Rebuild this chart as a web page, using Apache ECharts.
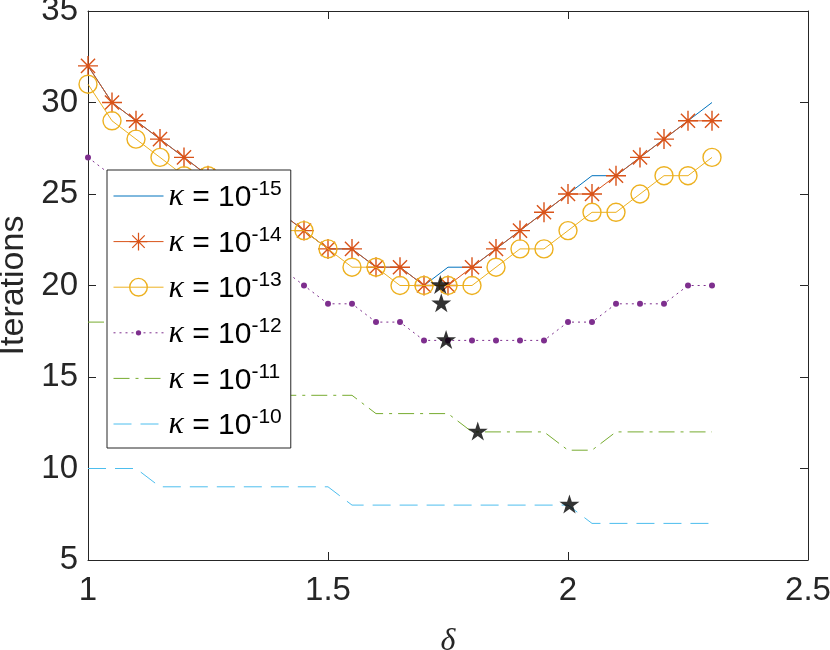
<!DOCTYPE html>
<html>
<head>
<meta charset="UTF-8">
<title>Iterations vs delta</title>
<style type="text/css">
	body { margin: 0; background: #fff; }
	#chart { width: 830px; height: 650px; }
</style>
</head>
<body>
<div id="chart"></div>
<script src="https://cdn.jsdelivr.net/npm/echarts@6/dist/echarts.min.js"></script>
<script type="text/javascript">
	var myChart = echarts.init(document.getElementById('chart'));

	// delta values (x)
	var delta = [1.00, 1.05, 1.10, 1.15, 1.20, 1.25, 1.30, 1.35, 1.40, 1.45, 1.50, 1.55, 1.60, 1.65,
		1.70, 1.75, 1.80, 1.85, 1.90, 1.95, 2.00, 2.05, 2.10, 2.15, 2.20, 2.25, 2.30];

	// iterations for each kappa
	var k15 = [32, 30, 29, 28, 27, 26, 25, 24, 24, 23, 22, 22, 21, 21, 20, 21, 21, 22, 23, 24, 25, 26, 26, 27, 28, 29, 30];
	var k14 = [32, 30, 29, 28, 27, 26, 25, 24, 24, 23, 22, 22, 21, 21, 20, 20, 21, 22, 23, 24, 25, 25, 26, 27, 28, 29, 29];
	var k13 = [31, 29, 28, 27, 26, 26, 25, 24, 23, 23, 22, 21, 21, 20, 20, 20, 20, 21, 22, 22, 23, 24, 24, 25, 26, 26, 27];
	var k12 = [27, 26, 25, 24, 23, 22, 22, 21, 21, 20, 19, 19, 18, 18, 17, 17, 17, 17, 17, 17, 18, 18, 19, 19, 19, 20, 20];
	var k11 = [18, 18, 17, 17, 16, 16, 15, 15, 14, 14, 14, 14, 13, 13, 13, 13, 12, 12, 12, 12, 11, 11, 12, 12, 12, 12, 12];
	var k10 = [10, 10, 10, 9, 9, 9, 9, 9, 9, 9, 9, 8, 8, 8, 8, 8, 8, 8, 8, 8, 8, 7, 7, 7, 7, 7, 7];

	// black stars (optimal delta)
	var starX = [1.734, 1.736, 1.746, 1.812, 2.003];
	var starY = [20, 19, 17, 12, 8];

	var names = ['k15', 'k14', 'k13', 'k12', 'k11', 'k10'];
	var exps = ['-15', '-14', '-13', '-12', '-11', '-10'];
	var xTicks = ['1', '1.5', '2', '2.5'];

	var asterisk = 'path://M-0.07,-1L0.07,-1L0.07,1L-0.07,1Z' +
		'M-1,-0.07L1,-0.07L1,0.07L-1,0.07Z' +
		'M-0.657,-0.757L0.757,0.657L0.657,0.757L-0.757,-0.657Z' +
		'M0.757,-0.657L-0.657,0.757L-0.757,0.657L0.657,-0.757Z';
	var dot = 'path://M-1,-1M1,1M0,-0.3A0.3,0.3,0,1,1,0,0.3A0.3,0.3,0,1,1,0,-0.3Z';
	var star = 'path://M-1,-1M1,1M0,-1L0.2245,-0.309L0.951,-0.309L0.363,0.118L0.588,0.809L0,0.382' +
		'L-0.588,0.809L-0.363,0.118L-0.951,-0.309L-0.2245,-0.309Z';

	function pairs(xs, ys) {
		var out = [];
		for (var i = 0; i < xs.length; i++) {
			out.push([xs[i], ys[i]]);
		}
		return out;
	}

	var axisColor = '#262626';
	var clear = 'rgba(0,0,0,0)';

	function lineSeries(idx, ys, color, type, symbol, size, fill, border, showSym) {
		return {
			name: names[idx],
			type: 'line',
			data: pairs(delta, ys),
			symbol: symbol,
			symbolSize: size,
			showSymbol: showSym,
			lineStyle: { color: color, width: 1, type: type },
			itemStyle: { color: fill, borderColor: border ? color : clear, borderWidth: border },
			emphasis: { disabled: true },
			z: 2 + idx * 0.01
		};
	}

	var series = [
		lineSeries(0, k15, '#0072BD', 'solid', 'circle', 0, clear, 0, false),
		lineSeries(1, k14, '#D95319', 'solid', asterisk, 20, '#D95319', 0, true),
		lineSeries(2, k13, '#EDB120', 'solid', 'circle', 18, clear, 1.4, true),
		lineSeries(3, k12, '#7E2F8E', [2, 4], dot, 20, '#7E2F8E', 0, true),
		lineSeries(4, k11, '#77AC30', [16, 6, 3, 6], 'circle', 0, clear, 0, false),
		lineSeries(5, k10, '#4DBEEE', [18, 9], 'circle', 0, clear, 0, false),
		{
			name: 'opt',
			type: 'scatter',
			data: pairs(starX, starY),
			symbol: star,
			symbolSize: 21,
			symbolKeepAspect: true,
			itemStyle: { color: '#000' },
			z: 3
		}
	];

	var option = {
		animation: false,
		backgroundColor: '#fff',
		grid: { left: 88, right: 22, top: 11, bottom: 90, outerBoundsMode: 'none', containLabel: false },
		legend: {
			orient: 'vertical',
			left: 107,
			top: 170,
			data: names,
			padding: [9, 9, 7, 6],
			itemGap: 11.6,
			itemWidth: 50,
			itemHeight: 22,
			backgroundColor: '#fff',
			borderColor: axisColor,
			borderWidth: 1,
			selectedMode: false,
			itemStyle: { borderWidth: 'inherit' },
			lineStyle: { width: 'inherit' },
			formatter: function (name) {
				return '{z|\u200b}{k|κ}{e| = 10}{s|' + exps[names.indexOf(name)] + '}';
			},
			textStyle: {
				color: '#000',
				rich: {
					z: { fontSize: 10, lineHeight: 34 },
					k: { fontFamily: 'Liberation Serif', fontStyle: 'italic', fontSize: 32, lineHeight: 22, verticalAlign: 'bottom', color: '#000' },
					e: { fontFamily: 'Liberation Sans', fontSize: 30, lineHeight: 22, verticalAlign: 'bottom', color: '#000' },
					s: { fontFamily: 'Liberation Sans', fontSize: 21, lineHeight: 24, verticalAlign: 'top', color: '#000' }
				}
			}
		},
		xAxis: [{
			type: 'value',
			min: 1,
			max: 2.5,
			interval: 0.5,
			name: 'δ',
			nameLocation: 'middle',
			nameGap: 66,
			nameTextStyle: { fontFamily: 'Liberation Serif', fontStyle: 'italic', fontSize: 32, color: axisColor },
			axisLine: { lineStyle: { color: axisColor, width: 1 } },
			axisTick: { inside: true, length: 8, lineStyle: { color: axisColor } },
			axisLabel: {
				margin: 14,
				fontFamily: 'Liberation Sans',
				fontSize: 33,
				color: axisColor,
				formatter: function (v) {
					return xTicks[Math.round((v - 1) / 0.5)];
				}
			},
			splitLine: { show: false }
		}, {
			type: 'value',
			position: 'top',
			min: 1,
			max: 2.5,
			interval: 0.5,
			axisLine: { show: true, lineStyle: { color: axisColor, width: 1 } },
			axisTick: { show: true, inside: true, length: 8, lineStyle: { color: axisColor } },
			axisLabel: { show: false },
			splitLine: { show: false }
		}],
		yAxis: [{
			type: 'value',
			min: 5,
			max: 35,
			interval: 5,
			name: 'Iterations',
			nameLocation: 'middle',
			nameGap: 52,
			nameTextStyle: { fontFamily: 'Liberation Sans', fontSize: 34, color: axisColor },
			axisLine: { show: true, lineStyle: { color: axisColor, width: 1 } },
			axisTick: { show: true, inside: true, length: 8, lineStyle: { color: axisColor } },
			axisLabel: { margin: 10, fontFamily: 'Liberation Sans', fontSize: 33, color: axisColor },
			splitLine: { show: false }
		}, {
			type: 'value',
			position: 'right',
			min: 5,
			max: 35,
			interval: 5,
			axisLine: { show: true, lineStyle: { color: axisColor, width: 1 } },
			axisTick: { show: true, inside: true, length: 8, lineStyle: { color: axisColor } },
			axisLabel: { show: false },
			splitLine: { show: false }
		}],
		series: series
	};

	myChart.setOption(option);
</script>
</body>
</html>
